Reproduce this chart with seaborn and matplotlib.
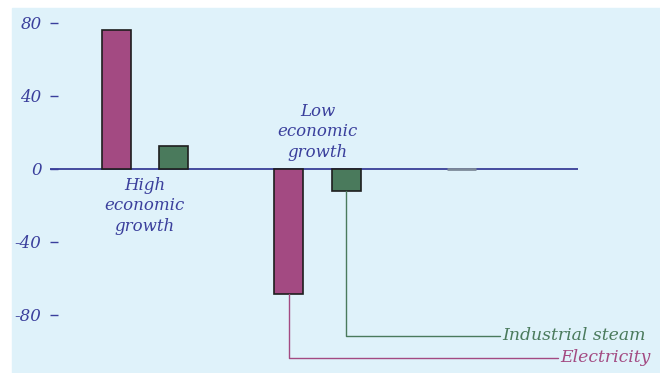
import numpy as np
import pandas as pd
import matplotlib
matplotlib.use("Agg")
import matplotlib.pyplot as plt
import seaborn as sns

# values
positions = [0, 1, 3, 4, 6]
values = [76, 12.5, -68.5, -12, 0]
series = ["Electricity", "Industrial steam", "Electricity", "Industrial steam", "Other"]
group_labels = ["High\neconomic\ngrowth", "Low\neconomic\ngrowth"]
yticks = [80, 40, 0, -40, -80]

elec_color = "#a34a82"
steam_color = "#4a7a5c"
other_color = "#7d8a99"
text_color = "#3a3f9c"
bg_color = "#dff2fa"

df = pd.DataFrame({"pos": positions, "value": values, "series": series})

sns.set_theme(style="white")
plt.rcParams["font.family"] = ["DejaVu Serif"]
plt.rcParams["font.style"] = "italic"

fig = plt.figure(figsize=(6.6, 3.73), dpi=100)
fig.patch.set_facecolor("white")
bg = plt.Rectangle((12 / 660, 0), 648 / 660, 365 / 373,
                   transform=fig.transFigure, color=bg_color, zorder=-10)
fig.patches.append(bg)

ax = fig.add_axes([50 / 660, 0, 528 / 660, 365 / 373])
ax.set_facecolor("none")
ax.set_zorder(1)

palette = {"Electricity": elec_color, "Industrial steam": steam_color, "Other": other_color}
sns.barplot(data=df, x="pos", y="value", hue="series", palette=palette,
            native_scale=True, width=0.5, dodge=False, legend=False,
            edgecolor="#1e1e1e", linewidth=1.2, saturation=1, ax=ax)

# the "Other" bar is a flat grey dash at zero
for patch in ax.patches:
    if abs(patch.get_height()) < 1e-9:
        patch.set_edgecolor(other_color)
        patch.set_linewidth(2)

ax.axhline(0, color="#2a2f8f", lw=1.2, zorder=0.5)

ax.set_xlim(-1.15, 8.03)
ax.set_ylim(-112, 88.2)
ax.set_xticks([])
ax.set_yticks(yticks)
ax.set_yticklabels([str(t) for t in yticks])
ax.tick_params(axis="y", direction="in", length=5.5, width=1, color=text_color,
               labelcolor=text_color, labelsize=12, pad=6, left=True)
for s in ax.spines.values():
    s.set_visible(False)
ax.set_xlabel("")
ax.set_ylabel("")

# group labels
ax.text(0.5, -4.5, group_labels[0], ha="center", va="top", color=text_color,
        fontsize=12, linespacing=1.25)
ax.text(3.5, 4.5, group_labels[1], ha="center", va="bottom", color=text_color,
        fontsize=12, linespacing=1.25)

# callout lines to the series names
ax.plot([4, 4, 6.68], [values[3], -91.5, -91.5], color=steam_color, lw=1, clip_on=False)
ax.text(6.72, -91.5, "Industrial steam", color=steam_color, fontsize=12.4,
        ha="left", va="center", clip_on=False)
ax.plot([3, 3, 7.69], [values[2], -103.6, -103.6], color=elec_color, lw=1, clip_on=False)
ax.text(7.72, -103.6, "Electricity", color=elec_color, fontsize=12.4,
        ha="left", va="center", clip_on=False)

fig.savefig("out.png", dpi=100)
